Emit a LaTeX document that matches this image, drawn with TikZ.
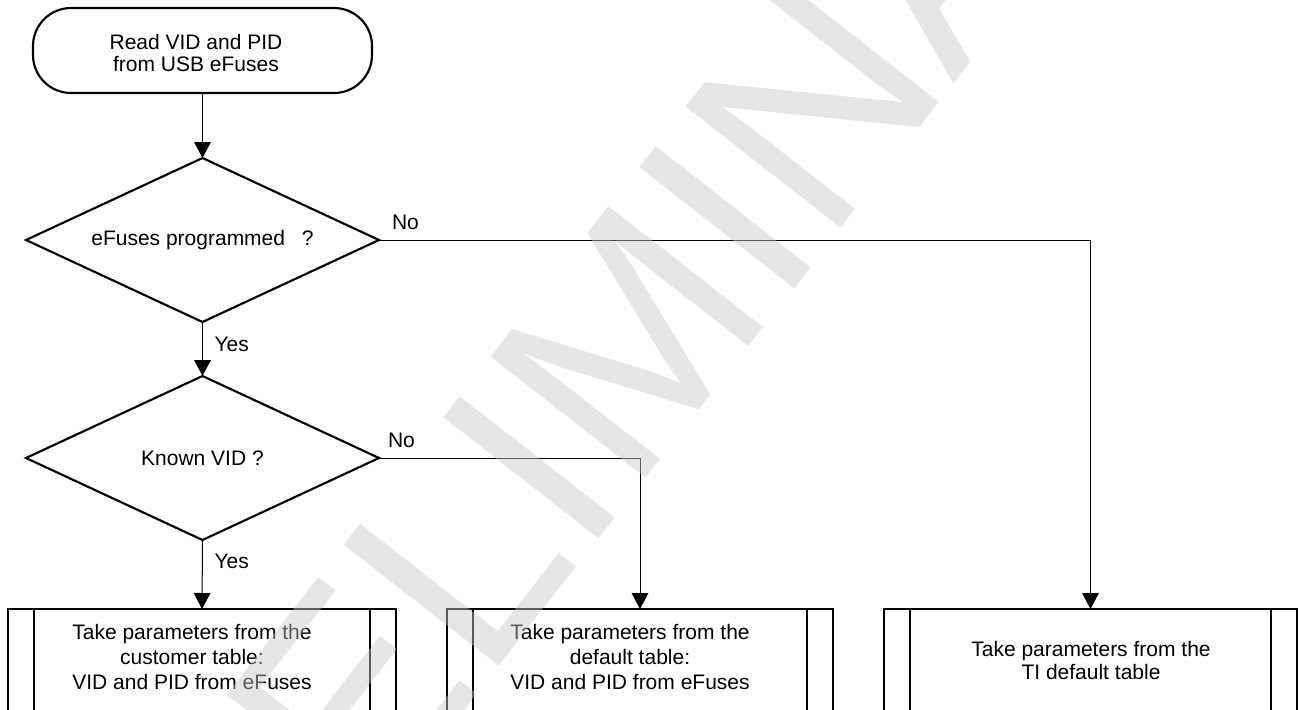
\documentclass[tikz,border=0pt]{standalone}
\usepackage{fontspec}
\setmainfont{Liberation Sans}
\usetikzlibrary{shapes.geometric,arrows.meta}

% one drawing unit = 0.75pt
\def\pxl{0.75pt}
\definecolor{wmgray}{RGB}{200,200,200}

\begin{document}
\begin{tikzpicture}[x=0.75pt,y=-0.75pt,
  every node/.style={inner sep=0pt,outer sep=0pt},
  flow/.style={draw,line width=1.6pt},
  terminal/.style={flow,rectangle,rounded corners=28.5pt,
    minimum width=339*\pxl,minimum height=85*\pxl},
  decision/.style={flow,diamond,aspect=2.15,
    minimum width=353*\pxl,minimum height=164*\pxl,
    font=\fontsize{15.75pt}{17.25pt}\selectfont},
  procbox/.style={flow,rectangle,minimum height=105*\pxl},
  txt/.style={align=center,font=\fontsize{15.75pt}{18.75pt}\selectfont},
  lbl/.style={anchor=west,font=\fontsize{15.75pt}{17.25pt}\selectfont},
  link/.style={line width=0.75pt,-{Triangle[length=12pt,width=12.5pt]}},
  sideline/.style={line width=1.6pt}
]
\useasboundingbox (0,0) rectangle (1299,710);
\fill[white] (0,0) rectangle (1299,710);
\clip (0,0) rectangle (1299,710);

% shapes
\node[terminal] (start) at (202.5,50.5) {};
\node[decision] (d1) at (202.5,240) {eFuses programmed\hspace{0.8em}?};
\node[decision] (d2) at (202.5,458) {Known VID ?};
\node[procbox,minimum width=388*\pxl] (b1) at (202,661.5) {};
\node[procbox,minimum width=386*\pxl] (b2) at (640,661.5) {};
\node[procbox,minimum width=413*\pxl] (b3) at (1090.5,661.5) {};

% inner side bars of the process boxes
\foreach \b in {b1,b2,b3}{
  \draw[sideline] ([xshift=26*\pxl]\b.north west) -- ([xshift=26*\pxl]\b.south west);
  \draw[sideline] ([xshift=-26*\pxl]\b.north east) -- ([xshift=-26*\pxl]\b.south east);
}

% texts
\node[txt,font=\fontsize{15.75pt}{16.5pt}\selectfont] (starttext) at (196,53.4)
  {Read VID and PID\\from USB eFuses};
\node[txt] (b1text) at (192,657.3)
  {Take parameters from the\\customer table:\\VID and PID from eFuses};
\node[txt] (b2text) at (630,657.3)
  {Take parameters from the\\default table:\\VID and PID from eFuses};
\node[txt,font=\fontsize{15.75pt}{17.25pt}\selectfont] (b3text) at (1091,660)
  {Take parameters from the\\TI default table};

% connectors
\draw[link] (start.south) -- (d1.north);
\draw[link] (d1.south) -- (d2.north);
\draw[link] (d2.south) -- (b1.north);
\draw[link] (d1.east) -| (b3.north);
\draw[link] (d2.east) -| (b2.north);

% branch labels
\node[lbl] (yes1) at ([xshift=12*\pxl,yshift=-22*\pxl]d1.south) {Yes};
\node[lbl] (yes2) at ([xshift=12*\pxl,yshift=-21*\pxl]d2.south) {Yes};
\node[lbl] (no1) at ([xshift=13*\pxl,yshift=18*\pxl]d1.east) {No};
\node[lbl] (no2) at ([xshift=9*\pxl,yshift=18*\pxl]d2.east) {No};

% watermark
\node[font=\fontsize{214.2pt}{214.2pt}\selectfont,text=wmgray,text opacity=0.45,
  rotate=52,anchor=base west] (wm) at (123.4,1147.2) {PRELIMINARY};
\end{tikzpicture}
\end{document}
